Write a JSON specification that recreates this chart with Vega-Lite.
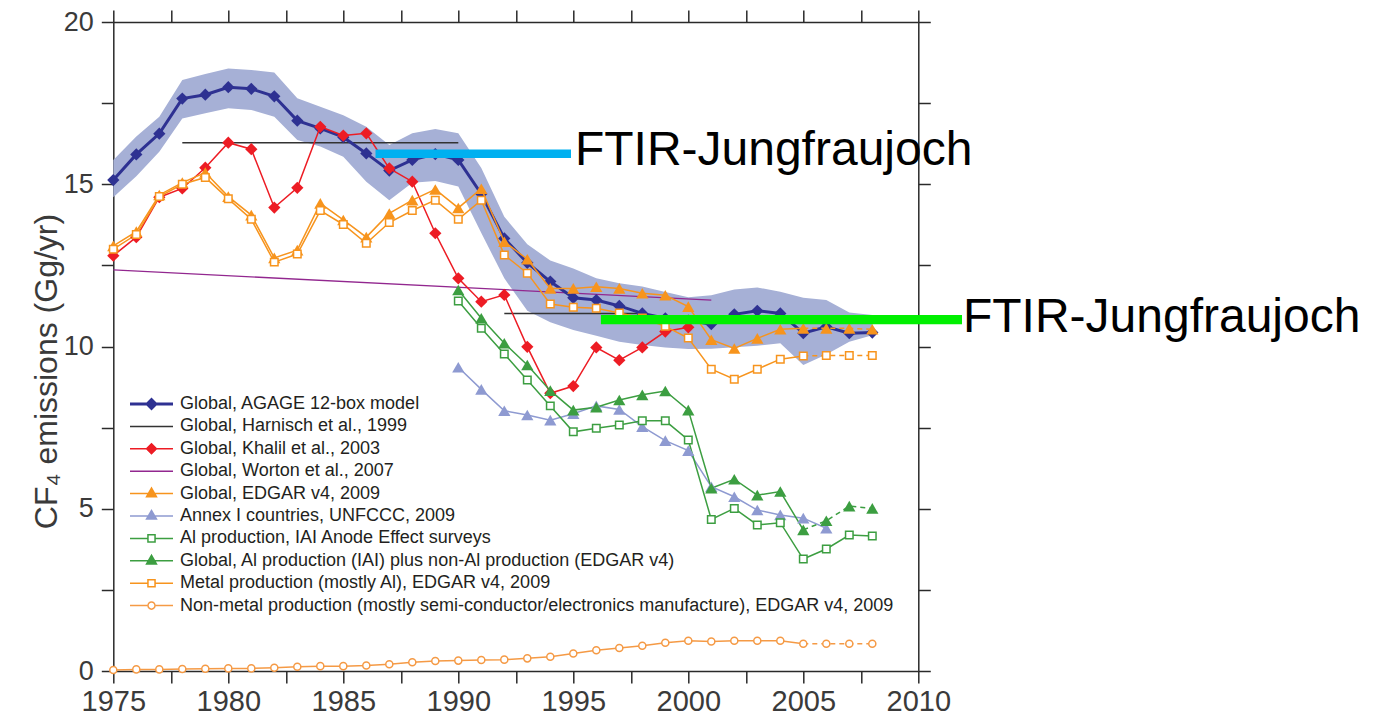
{
  "$schema": "https://vega.github.io/schema/vega-lite/v6.json",
  "width": 805,
  "height": 649,
  "autosize": {"type": "none"},
  "padding": {"left": 113.3, "top": 22, "right": 458.7, "bottom": 47},
  "background": "white",
  "config": {
    "view": {"stroke": null},
    "axis": {
      "grid": false,
      "domainColor": "#2a2a2a",
      "domainWidth": 1.5,
      "tickColor": "#2a2a2a",
      "tickWidth": 1.5,
      "labelColor": "#3a3a3a",
      "labelFont": "Liberation Sans Narrow, Arial Narrow, sans-serif",
      "titleFont": "Liberation Sans Narrow, Arial Narrow, sans-serif",
      "titleFontWeight": "normal",
      "titleColor": "#3a3a3a"
    }
  },
  "datasets": {
    "cf4": [
      {"year": 1975, "lo": 14.6, "hi": 15.75, "agage": 15.13, "khalil": 12.8, "worton": 12.36, "edgar": 13.1, "metal": 13.0, "nonmetal": 0.03},
      {"year": 1976, "lo": 15.25, "hi": 16.47, "agage": 15.92, "khalil": 13.37, "edgar": 13.54, "metal": 13.45, "nonmetal": 0.05},
      {"year": 1977, "lo": 16.0, "hi": 17.08, "agage": 16.56, "khalil": 14.6, "edgar": 14.67, "metal": 14.62, "nonmetal": 0.05},
      {"year": 1978, "lo": 17.03, "hi": 18.21, "agage": 17.64, "khalil": 14.87, "edgar": 15.05, "metal": 15.0, "nonmetal": 0.06},
      {"year": 1979, "lo": 17.19, "hi": 18.4, "agage": 17.76, "khalil": 15.51, "edgar": 15.36, "metal": 15.21, "nonmetal": 0.07},
      {"year": 1980, "lo": 17.34, "hi": 18.57, "agage": 17.99, "khalil": 16.28, "edgar": 14.62, "metal": 14.55, "nonmetal": 0.08},
      {"year": 1981, "lo": 17.29, "hi": 18.52, "agage": 17.94, "khalil": 16.08, "edgar": 14.05, "metal": 13.92, "nonmetal": 0.08},
      {"year": 1982, "lo": 17.08, "hi": 18.44, "agage": 17.71, "khalil": 14.28, "edgar": 12.73, "metal": 12.6, "nonmetal": 0.1},
      {"year": 1983, "lo": 16.36, "hi": 17.65, "agage": 16.96, "khalil": 14.89, "edgar": 12.97, "metal": 12.85, "nonmetal": 0.13},
      {"year": 1984, "lo": 16.16, "hi": 17.39, "agage": 16.72, "khalil": 16.77, "edgar": 14.41, "metal": 14.19, "nonmetal": 0.15},
      {"year": 1985, "lo": 15.85, "hi": 17.13, "agage": 16.45, "khalil": 16.5, "edgar": 13.9, "metal": 13.76, "nonmetal": 0.15},
      {"year": 1986, "lo": 15.08, "hi": 16.77, "agage": 15.95, "khalil": 16.57, "edgar": 13.37, "metal": 13.18, "nonmetal": 0.17},
      {"year": 1987, "lo": 14.51, "hi": 16.21, "agage": 15.42, "khalil": 15.49, "edgar": 14.1, "metal": 13.82, "nonmetal": 0.21},
      {"year": 1988, "lo": 15.05, "hi": 16.57, "agage": 15.75, "khalil": 15.08, "edgar": 14.51, "metal": 14.19, "nonmetal": 0.27},
      {"year": 1989, "lo": 15.1, "hi": 16.7, "agage": 15.93, "khalil": 13.49, "edgar": 14.84, "metal": 14.51, "nonmetal": 0.31},
      {"year": 1990, "lo": 14.93, "hi": 16.57, "agage": 15.75, "khalil": 12.1, "edgar": 14.27, "annex": 9.36, "iai": 11.4, "alnonal": 11.74, "metal": 13.92, "nonmetal": 0.32},
      {"year": 1991, "lo": 13.5, "hi": 15.5, "agage": 14.7, "khalil": 11.38, "edgar": 14.86, "annex": 8.68, "iai": 10.56, "alnonal": 10.87, "metal": 14.51, "nonmetal": 0.34},
      {"year": 1992, "lo": 12.1, "hi": 14.0, "agage": 13.33, "khalil": 11.59, "edgar": 13.23, "annex": 8.02, "iai": 9.77, "alnonal": 10.1, "metal": 12.82, "nonmetal": 0.35},
      {"year": 1993, "lo": 11.1, "hi": 13.15, "agage": 12.58, "khalil": 9.99, "edgar": 12.69, "annex": 7.89, "iai": 8.97, "alnonal": 9.43, "metal": 12.26, "nonmetal": 0.39},
      {"year": 1994, "lo": 10.75, "hi": 12.65, "agage": 12.0, "khalil": 8.56, "edgar": 11.79, "annex": 7.73, "iai": 8.17, "alnonal": 8.64, "metal": 11.31, "nonmetal": 0.44},
      {"year": 1995, "lo": 10.51, "hi": 12.4, "agage": 11.5, "khalil": 8.78, "edgar": 11.79, "annex": 7.93, "iai": 7.37, "alnonal": 8.04, "metal": 11.21, "nonmetal": 0.54},
      {"year": 1996, "lo": 10.33, "hi": 12.1, "agage": 11.43, "khalil": 9.97, "edgar": 11.84, "annex": 8.17, "iai": 7.48, "alnonal": 8.13, "metal": 11.18, "nonmetal": 0.64},
      {"year": 1997, "lo": 10.15, "hi": 11.95, "agage": 11.25, "khalil": 9.58, "edgar": 11.79, "annex": 8.06, "iai": 7.58, "alnonal": 8.35, "metal": 11.03, "nonmetal": 0.71},
      {"year": 1998, "lo": 10.05, "hi": 11.85, "agage": 11.02, "khalil": 9.97, "edgar": 11.64, "annex": 7.53, "iai": 7.71, "alnonal": 8.51, "metal": 10.88, "nonmetal": 0.78},
      {"year": 1999, "lo": 9.97, "hi": 11.68, "agage": 10.87, "khalil": 10.46, "edgar": 11.58, "annex": 7.1, "iai": 7.71, "alnonal": 8.63, "metal": 10.62, "nonmetal": 0.87},
      {"year": 2000, "lo": 9.92, "hi": 11.52, "agage": 10.8, "khalil": 10.59, "edgar": 11.23, "annex": 6.79, "iai": 7.12, "alnonal": 8.04, "metal": 10.26, "nonmetal": 0.93},
      {"year": 2001, "lo": 9.93, "hi": 11.58, "agage": 10.69, "worton": 11.43, "edgar": 10.21, "annex": 5.68, "iai": 4.67, "alnonal": 5.63, "metal": 9.3, "nonmetal": 0.91},
      {"year": 2002, "lo": 9.98, "hi": 11.76, "agage": 10.99, "edgar": 9.94, "annex": 5.37, "iai": 5.01, "alnonal": 5.91, "metal": 8.99, "nonmetal": 0.93},
      {"year": 2003, "lo": 10.02, "hi": 11.82, "agage": 11.1, "edgar": 10.25, "annex": 4.96, "iai": 4.5, "alnonal": 5.42, "metal": 9.3, "nonmetal": 0.93},
      {"year": 2004, "lo": 10.1, "hi": 11.69, "agage": 11.02, "edgar": 10.53, "annex": 4.81, "iai": 4.57, "alnonal": 5.53, "metal": 9.61, "nonmetal": 0.93},
      {"year": 2005, "lo": 9.43, "hi": 11.5, "agage": 10.41, "edgar": 10.56, "annex": 4.71, "iai": 3.45, "alnonal": 4.35, "metal": 9.71, "nonmetal": 0.84},
      {"year": 2006, "lo": 9.75, "hi": 11.43, "agage": 10.61, "edgar": 10.56, "annex": 4.4, "iai": 3.76, "alnonal": 4.63, "metal": 9.72, "nonmetal": 0.84},
      {"year": 2007, "lo": 10.15, "hi": 11.05, "agage": 10.41, "edgar": 10.56, "iai": 4.19, "alnonal": 5.08, "metal": 9.72, "nonmetal": 0.84},
      {"year": 2008, "lo": 10.35, "hi": 10.97, "agage": 10.43, "edgar": 10.53, "iai": 4.16, "alnonal": 5.01, "metal": 9.72, "nonmetal": 0.84}
    ],
    "harnisch": [
      {"s": "harnisch", "start": 1978, "end": 1990, "v": 16.28},
      {"s": "harnisch", "start": 1992, "end": 1998, "v": 11.02}
    ]
  },
  "resolve": {"axis": {"x": "independent", "y": "independent"}},
  "layer": [
    {
      "data": {"name": "cf4"},
      "mark": {"type": "area", "color": "#a6b0d6", "opacity": 1},
      "encoding": {
        "x": {
          "field": "year", "type": "quantitative",
          "scale": {"domain": [1975, 2010], "nice": false, "zero": false},
          "axis": {
            "orient": "bottom", "title": null,
            "values": [1975, 1977.5, 1980, 1982.5, 1985, 1987.5, 1990, 1992.5, 1995, 1997.5, 2000, 2002.5, 2005, 2007.5, 2010],
            "format": "d",
            "labelExpr": "datum.value % 5 === 0 ? datum.label : ''",
            "labelOverlap": false, "labelFlush": false,
            "tickSize": 12, "labelPadding": 4, "labelFontSize": 29,
            "encode": {"ticks": {"update": {"y2": {"signal": "datum.value % 5 === 0 ? 12 : 6"}}}}
          }
        },
        "y": {
          "field": "lo", "type": "quantitative",
          "scale": {"domain": [0, 20], "nice": false},
          "axis": {
            "orient": "left",
            "title": "CF₄ emissions (Gg/yr)",
            "titleFontSize": 32, "titleX": -57, "titleY": 349, "titleBaseline": "alphabetic", "titleAngle": -90, "titleAlign": "center",
            "values": [0, 2.5, 5, 7.5, 10, 12.5, 15, 17.5, 20],
            "format": "d",
            "labelExpr": "datum.value % 5 === 0 ? datum.label : ''",
            "labelOverlap": false, "labelFlush": false,
            "tickSize": 12, "labelPadding": 8, "labelFontSize": 27,
            "encode": {"ticks": {"update": {"x2": {"signal": "datum.value % 5 === 0 ? -12 : -6"}}}}
          }
        },
        "y2": {"field": "hi"}
      }
    },
    {
      "data": {"name": "cf4"},
      "transform": [
        {"fold": ["worton"], "as": ["s", "v"]},
        {"filter": "isValid(datum.v)"}
      ],
      "mark": {"type": "line", "strokeWidth": 1.3},
      "encoding": {
        "x": {"field": "year", "type": "quantitative", "axis": null},
        "y": {"field": "v", "type": "quantitative", "axis": null},
        "color": {
          "field": "s", "type": "nominal",
          "scale": {
            "domain": ["agage", "harnisch", "khalil", "worton", "edgar", "annex", "iai", "alnonal", "metal", "nonmetal"],
            "range": ["#2e3192", "#333333", "#ed1c24", "#92278f", "#f7941d", "#8e9ad1", "#3c9e41", "#3c9e41", "#f7941d", "#f59a45"]
          },
          "legend": {
            "orient": "none", "legendX": 16.7, "legendY": 372,
            "title": null, "padding": 0,
            "symbolSize": 1849, "clipHeight": 20, "rowPadding": 2.4, "labelOffset": 7,
            "labelFont": "Liberation Sans, Arial, sans-serif", "labelFontSize": 18, "labelColor": "#231f20", "labelLimit": 1000,
            "labelExpr": "datum.value === 'agage' ? 'Global, AGAGE 12-box model' : datum.value === 'harnisch' ? 'Global, Harnisch et al., 1999' : datum.value === 'khalil' ? 'Global, Khalil et al., 2003' : datum.value === 'worton' ? 'Global, Worton et al., 2007' : datum.value === 'edgar' ? 'Global, EDGAR v4, 2009' : datum.value === 'annex' ? 'Annex I countries, UNFCCC, 2009' : datum.value === 'iai' ? 'Al production, IAI Anode Effect surveys' : datum.value === 'alnonal' ? 'Global, Al production (IAI) plus non-Al production (EDGAR v4)' : datum.value === 'metal' ? 'Metal production (mostly Al), EDGAR v4, 2009' : 'Non-metal production (mostly semi-conductor/electronics manufacture), EDGAR v4, 2009'",
            "encode": {
              "symbols": {
                "update": {
                  "x": {"value": 21.5},
                  "shape": {"signal": "datum.value === 'agage' ? 'M-1,-0.07H1V0.07H-1ZM0,-0.3L0.3,0L0,0.3L-0.3,0Z' : datum.value === 'khalil' ? 'M-1,-0.035H1V0.035H-1ZM0,-0.28L0.28,0L0,0.28L-0.28,0Z' : (datum.value === 'harnisch' || datum.value === 'worton') ? 'M-1,-0.035H1V0.035H-1Z' : (datum.value === 'edgar' || datum.value === 'annex' || datum.value === 'alnonal') ? 'M-1,-0.035H1V0.035H-1ZM0,-0.33L0.29,0.18L-0.29,0.18Z' : datum.value === 'nonmetal' ? 'M-1,-0.035H-0.2V0.035H-1ZM0.2,-0.035H1V0.035H0.2ZM-0.2,0A0.2,0.2 0 1 1 0.2,0A0.2,0.2 0 1 1 -0.2,0ZM-0.13,0A0.13,0.13 0 1 0 0.13,0A0.13,0.13 0 1 0 -0.13,0Z' : 'M-1,-0.035H-0.2V0.035H-1ZM0.2,-0.035H1V0.035H0.2ZM-0.2,-0.2H0.2V0.2H-0.2ZM-0.13,-0.13V0.13H0.13V-0.13Z'"},
                  "size": {"value": 1849},
                  "fill": {"signal": "scale('color', datum.value)"},
                  "fillOpacity": {"value": 1},
                  "stroke": {"value": "transparent"},
                  "strokeWidth": {"value": 0},
                  "opacity": {"value": 1}
                }
              },
              "labels": {
                "update": {
                  "x": {"value": 50}
                }
              }
            }
          }
        }
      }
    },
    {
      "data": {"name": "harnisch"},
      "mark": {"type": "rule", "strokeWidth": 1.5},
      "encoding": {
        "x": {"field": "start", "type": "quantitative", "axis": null},
        "x2": {"field": "end"},
        "y": {"field": "v", "type": "quantitative", "axis": null},
        "color": {"field": "s", "type": "nominal"}
      }
    },
    {
      "data": {"name": "cf4"},
      "transform": [
        {"fold": ["agage"], "as": ["s", "v"]},
        {"filter": "isValid(datum.v)"}
      ],
      "mark": {"type": "line", "strokeWidth": 3},
      "encoding": {
        "x": {
          "field": "year", "type": "quantitative",
          "axis": {
            "orient": "top", "title": null, "labels": false,
            "values": [1975, 1977.5, 1980, 1982.5, 1985, 1987.5, 1990, 1992.5, 1995, 1997.5, 2000, 2002.5, 2005, 2007.5, 2010],
            "tickSize": 12,
            "encode": {"ticks": {"update": {"y2": {"signal": "datum.value % 5 === 0 ? 12 : 6"}}}}
          }
        },
        "y": {
          "field": "v", "type": "quantitative",
          "axis": {
            "orient": "right", "title": null, "labels": false,
            "values": [0, 2.5, 5, 7.5, 10, 12.5, 15, 17.5, 20],
            "tickSize": 12,
            "encode": {"ticks": {"update": {"x2": {"signal": "datum.value % 5 === 0 ? -12 : -6"}}}}
          }
        },
        "color": {"field": "s", "type": "nominal"}
      }
    },
    {
      "data": {"name": "cf4"},
      "transform": [
        {"fold": ["agage"], "as": ["s", "v"]},
        {"filter": "isValid(datum.v)"}
      ],
      "mark": {"type": "point", "shape": "diamond", "filled": true, "size": 150, "opacity": 1, "strokeWidth": 1},
      "encoding": {
        "x": {"field": "year", "type": "quantitative", "axis": null},
        "y": {"field": "v", "type": "quantitative", "axis": null},
        "color": {"field": "s", "type": "nominal"}
      }
    },
    {
      "data": {"name": "cf4"},
      "transform": [
        {"fold": ["khalil", "edgar", "annex", "iai", "alnonal", "metal", "nonmetal"], "as": ["s", "v"]},
        {"filter": "isValid(datum.v)"},
        {"filter": "!(indexof(['edgar', 'metal', 'nonmetal', 'alnonal'], datum.s) >= 0 && datum.year > 2005)"}
      ],
      "mark": {"type": "line", "strokeWidth": 1.5},
      "encoding": {
        "x": {"field": "year", "type": "quantitative", "axis": null},
        "y": {"field": "v", "type": "quantitative", "axis": null},
        "color": {"field": "s", "type": "nominal"}
      }
    },
    {
      "data": {"name": "cf4"},
      "transform": [
        {"fold": ["edgar", "alnonal", "metal", "nonmetal"], "as": ["s", "v"]},
        {"filter": "isValid(datum.v) && datum.year >= 2005"}
      ],
      "mark": {"type": "line", "strokeWidth": 1.5, "strokeDash": [5, 4]},
      "encoding": {
        "x": {"field": "year", "type": "quantitative", "axis": null},
        "y": {"field": "v", "type": "quantitative", "axis": null},
        "color": {"field": "s", "type": "nominal"}
      }
    },
    {
      "data": {"name": "cf4"},
      "transform": [
        {"fold": ["khalil"], "as": ["s", "v"]},
        {"filter": "isValid(datum.v)"}
      ],
      "mark": {"type": "point", "shape": "diamond", "filled": true, "size": 150, "opacity": 1, "strokeWidth": 1},
      "encoding": {
        "x": {"field": "year", "type": "quantitative", "axis": null},
        "y": {"field": "v", "type": "quantitative", "axis": null},
        "color": {"field": "s", "type": "nominal"}
      }
    },
    {
      "data": {"name": "cf4"},
      "transform": [
        {"fold": ["edgar", "annex", "alnonal"], "as": ["s", "v"]},
        {"filter": "isValid(datum.v)"}
      ],
      "mark": {"type": "point", "shape": "triangle-up", "filled": true, "size": 150, "opacity": 1, "strokeWidth": 1},
      "encoding": {
        "x": {"field": "year", "type": "quantitative", "axis": null},
        "y": {"field": "v", "type": "quantitative", "axis": null},
        "color": {"field": "s", "type": "nominal"}
      }
    },
    {
      "data": {"name": "cf4"},
      "transform": [
        {"fold": ["iai", "metal"], "as": ["s", "v"]},
        {"filter": "isValid(datum.v)"}
      ],
      "mark": {"type": "point", "shape": "square", "filled": false, "fill": "white", "fillOpacity": 1, "size": 56, "opacity": 1, "strokeWidth": 1.5},
      "encoding": {
        "x": {"field": "year", "type": "quantitative", "axis": null},
        "y": {"field": "v", "type": "quantitative", "axis": null},
        "color": {"field": "s", "type": "nominal"}
      }
    },
    {
      "data": {"name": "cf4"},
      "transform": [
        {"fold": ["nonmetal"], "as": ["s", "v"]},
        {"filter": "isValid(datum.v)"}
      ],
      "mark": {"type": "point", "shape": "circle", "filled": false, "fill": "white", "fillOpacity": 1, "size": 50, "opacity": 1, "strokeWidth": 1.5},
      "encoding": {
        "x": {"field": "year", "type": "quantitative", "axis": null},
        "y": {"field": "v", "type": "quantitative", "axis": null},
        "color": {"field": "s", "type": "nominal"}
      }
    },
    {
      "data": {"values": [{"start": 1986.4, "end": 1994.9, "v": 15.94}]},
      "mark": {"type": "rule", "color": "#00b0f0", "strokeWidth": 8.5},
      "encoding": {
        "x": {"field": "start", "type": "quantitative", "axis": null},
        "x2": {"field": "end"},
        "y": {"field": "v", "type": "quantitative", "axis": null}
      }
    },
    {
      "data": {"values": [{"start": 1996.2, "end": 2011.9, "v": 10.83}]},
      "mark": {"type": "rule", "color": "#00f000", "strokeWidth": 9.3},
      "encoding": {
        "x": {"field": "start", "type": "quantitative", "axis": null},
        "x2": {"field": "end"},
        "y": {"field": "v", "type": "quantitative", "axis": null}
      }
    },
    {
      "data": {"values": [
        {"year": 1995.07, "v": 15.59, "label": "FTIR-Jungfraujoch"},
        {"year": 2011.94, "v": 10.46, "label": "FTIR-Jungfraujoch"}
      ]},
      "mark": {"type": "text", "align": "left", "baseline": "alphabetic", "font": "Liberation Sans, Arial, sans-serif", "fontSize": 48, "color": "#000000"},
      "encoding": {
        "x": {"field": "year", "type": "quantitative", "axis": null},
        "y": {"field": "v", "type": "quantitative", "axis": null},
        "text": {"field": "label"}
      }
    }
  ]
}
